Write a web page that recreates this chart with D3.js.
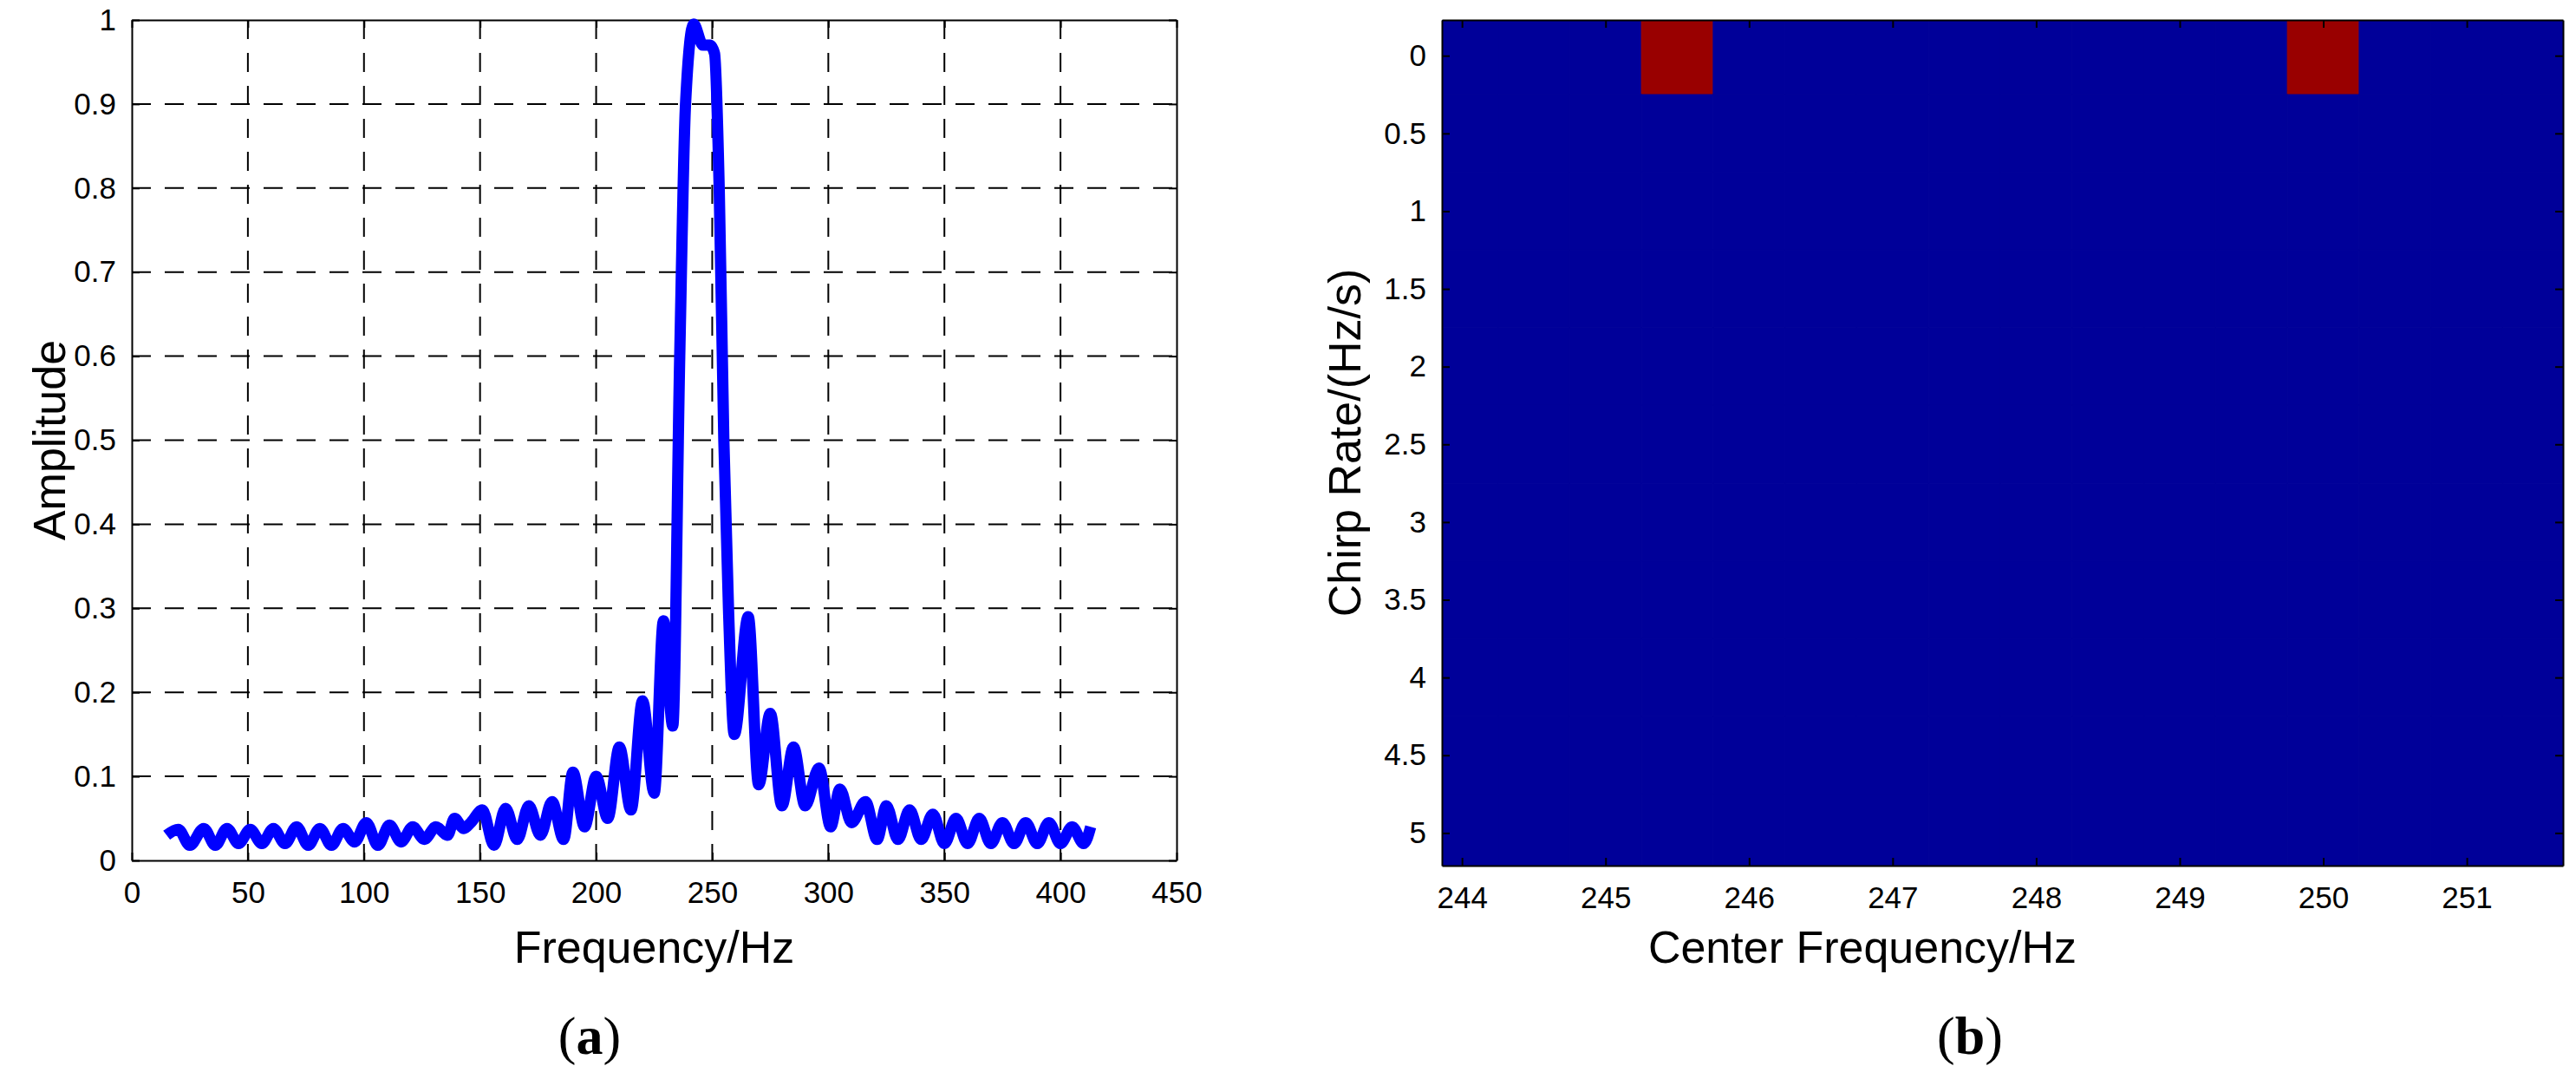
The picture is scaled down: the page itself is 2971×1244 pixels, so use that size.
<!DOCTYPE html>
<head>
  <meta charset="utf-8" />
  <script src="https://d3js.org/d3.v7.min.js"></script>
  <style>
    body { margin: 0; background: #fff; }
    svg { display: block; font-family: "Liberation Sans", Arial, sans-serif; }
  </style>
</head>
<body>
  <svg width="2971" height="1244"></svg>
  <script>
    // (a) spectrum, extrema
    const freq = [15,20,25,31,36,41,46,51,56,61,66,71,76,81,86,91,96,101,106,111,116,121,126,131,136,139,143,146,151,156,161,166,171,176,181,186,190,195,200,205,210,215,220,225,229,233,236,238.5,242,246,249,251,253,255,257,259.5,265.5,270,275,280,285,290,296,301,305,310,316,321,325,330,335,340,345,350,355,360,365,370,375,380,385,390,395,400,405,410,413];
    const amp = [0.030,0.037,0.018,0.038,0.018,0.038,0.020,0.037,0.020,0.038,0.020,0.040,0.018,0.038,0.018,0.038,0.022,0.045,0.018,0.042,0.022,0.040,0.025,0.040,0.030,0.050,0.038,0.045,0.060,0.018,0.062,0.025,0.065,0.030,0.070,0.025,0.105,0.040,0.100,0.050,0.135,0.060,0.190,0.080,0.285,0.160,0.600,0.900,0.995,0.970,0.970,0.960,0.800,0.500,0.300,0.150,0.290,0.090,0.175,0.065,0.135,0.065,0.110,0.040,0.085,0.045,0.070,0.025,0.065,0.025,0.060,0.025,0.055,0.020,0.050,0.020,0.050,0.020,0.045,0.020,0.045,0.020,0.045,0.020,0.040,0.020,0.040];
    const xTicksA = [0,50,100,150,200,250,300,350,400,450];
    const yTicksA = [0,0.1,0.2,0.3,0.4,0.5,0.6,0.7,0.8,0.9,1];

    // (b) chirp-rate / centre-frequency map
    const cFreq = [244,244.5,245,245.5,246,246.5,247,247.5,248,248.5,249,249.5,250,250.5,251,251.5];
    const rate = [0,0.5,1,1.5,2,2.5,3,3.5,4,4.5,5];
    const peaks = [[245.5,0],[250,0]];
    const xTicksB = [244,245,246,247,248,249,250,251];
    const yTicksB = [0,0.5,1,1.5,2,2.5,3,3.5,4,4.5,5];

    const svg = d3.select("svg");
    const fmt = d => String(d);

    function frame(g, w, h, x, y, xt, yt, grid) {
      if (grid) {
        g.append("g").selectAll("line").data(xt.slice(1, -1)).join("line")
          .attr("x1", d => x(d)).attr("x2", d => x(d)).attr("y1", 0).attr("y2", h)
          .attr("stroke", "#000").attr("stroke-width", 2).attr("stroke-dasharray", "22,16");
        g.append("g").selectAll("line").data(yt.slice(1, -1)).join("line")
          .attr("y1", d => y(d)).attr("y2", d => y(d)).attr("x1", 0).attr("x2", w)
          .attr("stroke", "#000").attr("stroke-width", 2).attr("stroke-dasharray", "22,16");
      }
      const ax = (axis, tr) => g.append("g").attr("transform", tr).call(axis)
        .call(s => s.select(".domain").attr("stroke-width", 2))
        .call(s => s.selectAll(".tick line").attr("stroke-width", 2));
      ax(d3.axisBottom(x).tickValues(xt).tickFormat(fmt).tickSizeInner(-9).tickSizeOuter(0).tickPadding(24), `translate(0,${h})`);
      ax(d3.axisTop(x).tickValues(xt).tickFormat("").tickSizeInner(-9).tickSizeOuter(0), "translate(0,0)");
      ax(d3.axisLeft(y).tickValues(yt).tickFormat(fmt).tickSizeInner(-9).tickSizeOuter(0).tickPadding(18), "translate(0,0)");
      ax(d3.axisRight(y).tickValues(yt).tickFormat("").tickSizeInner(-9).tickSizeOuter(0), `translate(${w},0)`);
      g.selectAll(".tick text").attr("font-size", 35).attr("font-family", "Liberation Sans, Arial");
    }

    // panel (a)
    const wA = 1205, hA = 969;
    const gA = svg.append("g").attr("transform", "translate(152,23)");
    const xA = d3.scaleLinear().domain([0, 450]).range([0, wA]);
    const yA = d3.scaleLinear().domain([0, 1]).range([hA, 0]);
    frame(gA, wA, hA, xA, yA, xTicksA, yTicksA, true);
    gA.append("path").datum(freq.map((f, i) => [f, amp[i]]))
      .attr("fill", "none").attr("stroke", "#0000ff").attr("stroke-width", 13)
      .attr("stroke-linejoin", "round")
      .attr("d", d3.line().x(d => xA(d[0])).y(d => yA(d[1])).curve(d3.curveMonotoneX));
    gA.append("text").attr("x", wA / 2).attr("y", 1110 - 23).attr("text-anchor", "middle")
      .attr("font-size", 52).text("Frequency/Hz");
    gA.append("text").attr("transform", `translate(-95,${hA / 2}) rotate(-90)`).attr("text-anchor", "middle")
      .attr("dy", "0.35em").attr("font-size", 52).text("Amplitude");

    // panel (b)
    const wB = 1293, hB = 975;
    const gB = svg.append("g").attr("transform", "translate(1663,23)");
    const xB = d3.scaleLinear().domain([243.86, 251.67]).range([0, wB]);
    const yB = d3.scaleLinear().domain([-0.23, 5.21]).range([0, hB]);
    const cells = [];
    rate.forEach(r => cFreq.forEach(f => cells.push({ f, r, hot: peaks.some(p => p[0] === f && p[1] === r) })));
    gB.append("clipPath").attr("id", "clipB").append("rect").attr("width", wB).attr("height", hB);
    gB.append("g").attr("clip-path", "url(#clipB)").selectAll("rect").data(cells).join("rect")
      .attr("x", d => xB(d.f - 0.25)).attr("y", d => yB(d.r - 0.25))
      .attr("width", xB(0.5) - xB(0)).attr("height", yB(0.5) - yB(0))
      .attr("fill", d => d.hot ? "#990000" : "#000099").attr("stroke", d => d.hot ? "#990000" : "#000099");
    frame(gB, wB, hB, xB, yB, xTicksB, yTicksB, false);
    gB.append("text").attr("x", 2148 - 1663).attr("y", 1110 - 23).attr("text-anchor", "middle")
      .attr("font-size", 52).text("Center Frequency/Hz");
    gB.append("text").attr("transform", `translate(-112,${hB / 2}) rotate(-90)`).attr("text-anchor", "middle")
      .attr("dy", "0.35em").attr("font-size", 52).text("Chirp Rate/(Hz/s)");

    // sub-figure captions
    const cap = (x, letter) => {
      const t = svg.append("text").attr("x", x).attr("y", 1215).attr("text-anchor", "middle")
        .attr("font-family", "Liberation Serif, Times New Roman, serif").attr("font-size", 62);
      t.append("tspan").text("(");
      t.append("tspan").attr("font-weight", "bold").text(letter);
      t.append("tspan").text(")");
    };
    cap(680, "a");
    cap(2272, "b");
  </script>
</body>
